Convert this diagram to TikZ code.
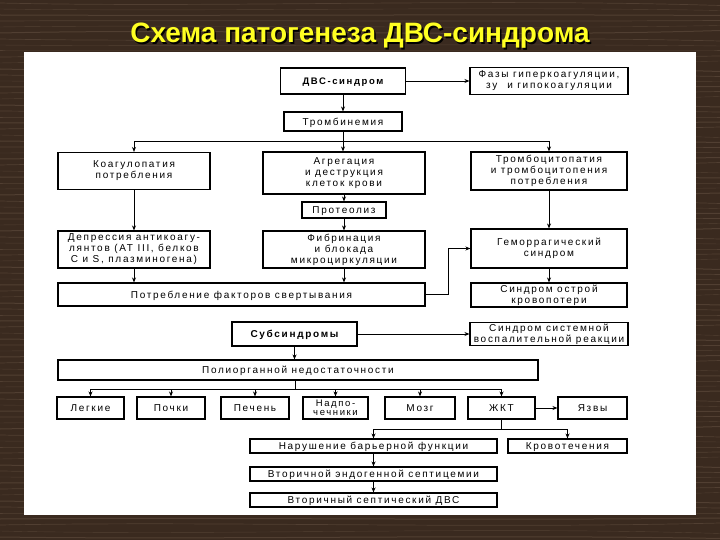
\documentclass[tikz,border=0pt]{standalone}
\usepackage{fontspec}
\setmainfont{Liberation Sans}
\newfontfamily\shrift[LetterSpace=17]{Liberation Sans}
\newfontfamily\zagshrift{Liberation Sans}
\usetikzlibrary{arrows.meta}
\definecolor{derevo}{HTML}{3A2A1F}
\definecolor{volokno}{HTML}{6E5A4A}
\definecolor{zheltyi}{HTML}{FFFF22}

\tikzset{
  blok/.style={draw,line width=1.1pt,inner sep=1pt,align=center,
    font=\shrift\fontsize{10}{11}\selectfont},
  stroka/.style={text depth=0pt},
  razmer/.style 2 args={minimum width=#1,minimum height=#2},
  svyaz/.style={line width=0.9pt}
}

\begin{document}
\begin{tikzpicture}[x=1pt,y=-1pt,>={Stealth[length=5pt,width=4pt]}]
\useasboundingbox (0,0) rectangle (720,540);
% фон под дерево
\fill[derevo] (0,0) rectangle (720,540);
\foreach \y in {3,9,...,537} {
  \pgfmathsetmacro\d{mod(\y*7,11)-5}
  \pgfmathsetmacro\w{0.4+0.1*mod(\y,9)}
  \draw[volokno,line width=\w pt,opacity=.45] (0,\y) .. controls (220,\y+\d) and (480,\y-\d) .. (720,\y+0.5*\d);
}
\fill[white] (24,52) rectangle (696,515);
% заголовок
\node[anchor=base,font=\zagshrift\bfseries\fontsize{28}{30}\selectfont,text=black] (zag0) at (361.5,44.5) {Схема патогенеза ДВС-синдрома};
\node[anchor=base,font=\zagshrift\bfseries\fontsize{28}{30}\selectfont,text=zheltyi] (zag) at (360,43) {Схема патогенеза ДВС-синдрома};

% блоки
\node[blok,stroka,razmer={125}{26},font=\shrift\bfseries\fontsize{9.5}{10.5}\selectfont] (dvs) at (343,81) {ДВС-синдром};
\node[blok,razmer={158}{27}] (faz) at (549,81) {Фазы гиперкоагуляции,\\зу\quad и гипокоагуляции};
\node[blok,stroka,razmer={118}{19}] (trb) at (343,121.5) {Тромбинемия};
\node[blok,razmer={152}{37}] (koag) at (134,171) {Коагулопатия\\потребления};
\node[blok,razmer={162}{42}] (agr) at (344,173) {Агрегация\\и деструкция\\клеток крови};
\node[blok,razmer={156}{38}] (tcp) at (549,171) {Тромбоцитопатия\\и тромбоцитопения\\потребления};
\node[blok,stroka,razmer={84}{16}] (prot) at (344,210) {Протеолиз};
\node[blok,razmer={152}{37}] (dep) at (134,249.5) {Депрессия антикоагу-\\лянтов (AT III, белков\\C и S, плазминогена)};
\node[blok,razmer={162}{37}] (fib) at (344,249.5) {Фибринация\\и блокада\\микроциркуляции};
\node[blok,razmer={156}{39}] (gem) at (549,248.5) {Геморрагический\\синдром};
\node[blok,stroka,razmer={367}{23}] (potr) at (241.5,294.5) {Потребление факторов свертывания};
\node[blok,razmer={156}{24}] (ostr) at (549,295) {Синдром острой\\кровопотери};
\node[blok,stroka,razmer={125}{24},font=\shrift\bfseries\fontsize{10}{11}\selectfont] (sub) at (294.5,334) {Субсиндромы};
\node[blok,razmer={158}{23}] (ssvr) at (549,334) {Синдром системной\\воспалительной реакции};
\node[blok,stroka,razmer={480}{20}] (pon) at (298,370) {Полиорганной недостаточности};
\node[blok,stroka,razmer={67}{22}] (leg) at (90.5,408) {Легкие};
\node[blok,stroka,razmer={68}{22}] (poch) at (171,408) {Почки};
\node[blok,stroka,razmer={68}{22}] (pech) at (255,408) {Печень};
\node[blok,razmer={65}{22},font=\shrift\fontsize{9.5}{9.5}\selectfont] (nadp) at (335.5,408) {Надпо-\\чечники};
\node[blok,stroka,razmer={70}{22}] (mozg) at (420,408) {Мозг};
\node[blok,stroka,razmer={67}{22}] (zhkt) at (501.5,408) {ЖКТ};
\node[blok,stroka,razmer={69}{22}] (yazv) at (592.5,408) {Язвы};
\node[blok,stroka,razmer={247}{14}] (nar) at (373.5,446) {Нарушение барьерной функции};
\node[blok,stroka,razmer={119}{14}] (krov) at (567.5,446) {Кровотечения};
\node[blok,stroka,razmer={247}{14}] (vtor1) at (373.5,474) {Вторичной эндогенной септицемии};
\node[blok,stroka,razmer={247}{14}] (vtor2) at (373.5,500) {Вторичный септический ДВС};

% связи
\draw[svyaz,->] (dvs) -- (faz);
\draw[svyaz,->] (dvs) -- (trb);
\coordinate (v1) at (343,141);
\draw[svyaz] (trb) -- (v1);
\draw[svyaz,->] (v1) -| (koag);
\draw[svyaz,->] (v1) -| (tcp);
\draw[svyaz,->] (v1) -- (v1 |- agr.north);
\draw[svyaz,->] (koag) -- (dep);
\draw[svyaz,->] (agr) -- (prot);
\draw[svyaz,->] (prot) -- (fib);
\draw[svyaz,->] (tcp) -- (gem);
\draw[svyaz,->] (dep) -- (dep |- potr.north);
\draw[svyaz,->] (fib) -- (fib |- potr.north);
\coordinate (v2) at (448,294.5);
\draw[svyaz,->] (potr) -- (v2) |- (gem);
\draw[svyaz,->] (gem) -- (ostr);
\draw[svyaz,->] (sub) -- (ssvr);
\draw[svyaz,->] (sub) -- (sub |- pon.north);
\coordinate (v3) at (295,389);
\draw[svyaz] (v3 |- pon.south) -- (v3);
\foreach \o in {leg,poch,pech,nadp,mozg,zhkt}
  \draw[svyaz,->] (v3) -| (\o);
\draw[svyaz,->] (zhkt) -- (yazv);
\coordinate (v4) at (501.5,429);
\draw[svyaz] (zhkt) -- (v4);
\draw[svyaz,->] (v4) -| (nar);
\draw[svyaz,->] (v4) -| (krov);
\draw[svyaz,->] (nar) -- (vtor1);
\draw[svyaz,->] (vtor1) -- (vtor2);
\end{tikzpicture}
\end{document}
